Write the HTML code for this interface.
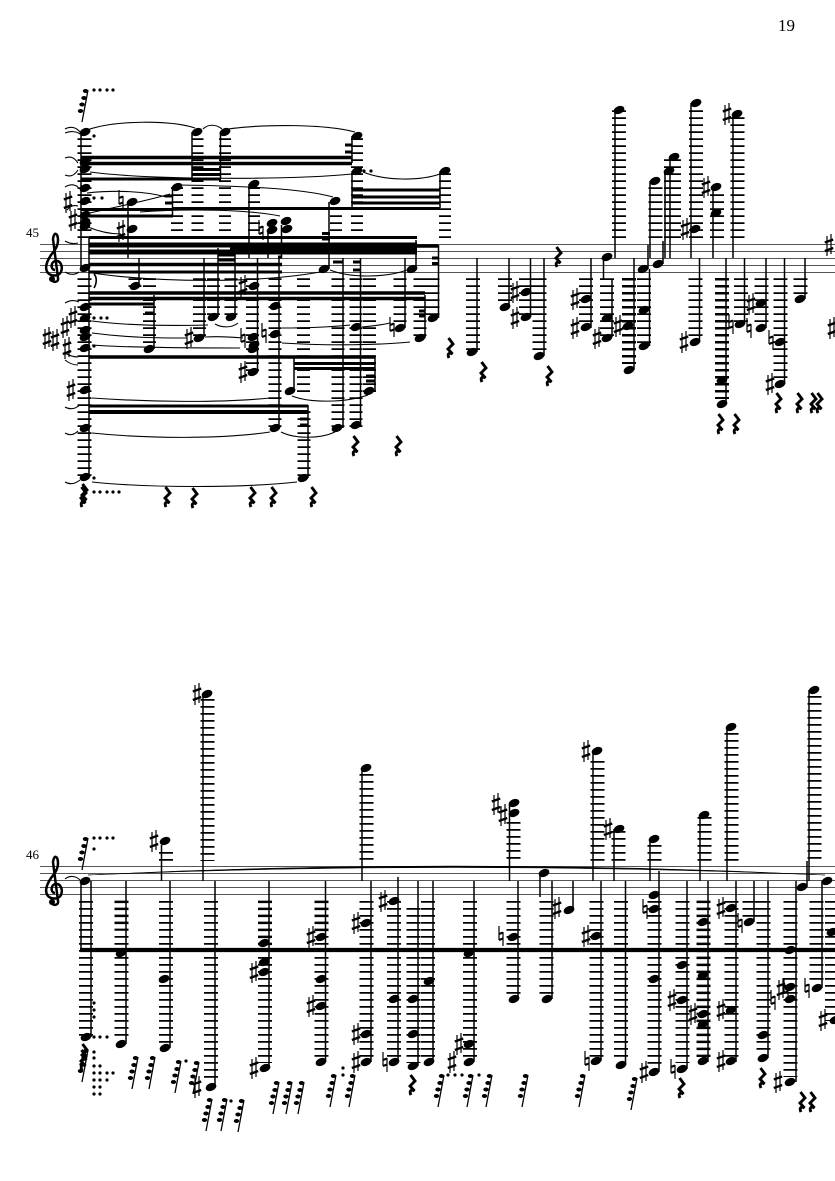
<!DOCTYPE html>
<html><head><meta charset="utf-8"><style>
html,body{margin:0;padding:0;background:#fff}
svg{display:block}
text{font-family:"Liberation Serif",serif;fill:#000}
</style></head><body>
<svg xmlns="http://www.w3.org/2000/svg" width="835" height="1181" viewBox="0 0 835 1181">
<defs>
<ellipse id="n" rx="5.6" ry="3.8" transform="rotate(-22)"/>
<g id="s" stroke="#000" fill="none"><path d="M-2 -9V11M2 -11V9" stroke-width="1.2"/><path d="M-4.2 -2.5L4.2 -5.5M-4.2 6L4.2 3" stroke-width="2.5"/></g>
<g id="h" stroke="#000" fill="none"><path d="M-2 -10V4M2 -4V10" stroke-width="1.2"/><path d="M-2 -2L2 -3.5M-2 4L2 2.5" stroke-width="2.1"/></g>
<path id="r" d="M-1.5 -10L3 -4L-2 1L2.5 6C-1 4 -3 6 -1 10" fill="none" stroke="#000" stroke-width="2.9"/>
<g id="g"><path d="M6 0L0 32" stroke="#000" stroke-width="1.3"/><ellipse cx="3.5" cy="1" rx="2.7" ry="2"/><ellipse cx="2" cy="8" rx="2.7" ry="2"/><ellipse cx="0" cy="14.5" rx="2.7" ry="2"/><ellipse cx="-1.5" cy="21" rx="2.7" ry="2"/></g>
<g id="c"><path d="M1 5C-3 5 -4 -2 1 -4C7 -5 9 2 7 7C5 11 -2 12 -6 8C-10 3 -7 -4 -3 -10C0 -14 4 -18 4 -25C4 -32 0 -34 -1 -26L4 13C5 18 -2 18 -3 14" fill="none" stroke="#000" stroke-width="2.5"/><circle cx="-2" cy="14" r="3"/></g>
</defs>

<text x="778" y="31" font-size="17">19</text>
<text x="26" y="237" font-size="13">45</text>
<text x="26" y="859" font-size="13">46</text>

<!-- staves -->
<path d="M40 244.5H835M40 251.5H835M40 258.5H835M40 265.5H835M40 272.5H835M40 866.5H835M40 873.5H835M40 880.5H835M40 887.5H835M40 894.5H835" stroke="#555" stroke-width="1" fill="none"/>
<use href="#c" x="54" y="265"/>
<use href="#c" x="54" y="888"/>

<!-- ledger stacks: system 1 -->
<g fill="none" stroke="#000" stroke-width="14" stroke-dasharray="1.7 5.3">
<path d="M84.5 138.3V238M84.5 278.3V476"/>
<path stroke-width="12" d="M197.5 138.3V238M225 138.3V238M177 187.3V231M254 187.3V231M336 208.3V238M357 138.3V168M357 173.3V238M445 173.3V238"/>
<path stroke-width="13" d="M149.5 278.3V343M135 278.3V288M199.5 278.3V336M213.5 278.3V315M231 278.3V315M252.5 278.3V371M275 278.3V427M303.5 278.3V392M304 411.3V476M338 278.3V427M356 278.3V427M369.5 278.3V392M400 278.3V322M420 278.3V336M433 278.3V315"/>
<path d="M473 278.3V350M505 278.3V301M526 278.3V315M539.5 278.3V350M586 278.3V322M607 278.3V336M629 278.3V364M644 278.3V343M695.5 278.3V336M722 278.3V399M741 278.3V322M761.5 278.3V322M780.5 278.3V378M800.5 278.3V294"/>
<path d="M619 110.3V238M655.5 187.3V238M696 110.3V238M717 194.3V238M737.5 117.3V238"/>
<path stroke-width="17" d="M672.5 159.3V238"/>
</g>
<!-- ledger stacks: system 2 -->
<g fill="none" stroke="#000" stroke-width="14" stroke-dasharray="1.7 5.3">
<path d="M86 901V1036M121.5 901V1037M166 901V1043M211 901V1081M265 901V1063M321.5 901V1057M366.5 901V1057M394 901V1057M413.5 908V1063M428 901V1057M470 901V1057M513.5 901V994M546.5 901V994M596.5 901V1057M621 901V1061M654.5 901V1066M682.5 901V1063M703.5 901V1057M731.5 901V1057M749.5 901V917M763.5 901V1053M790.5 901V1077M816.5 901V983M832 901V1021"/>
<path d="M166 852V861M207.5 699V861M366.5 774V861M513.5 822V861M597.5 761V861M618.5 831V861M654.5 845V861M704.5 817V861M731.5 733V861M814.5 696V861"/>
</g>
<!-- thicker top ledgers -->
<g fill="none" stroke="#000" stroke-width="14" stroke-dasharray="2.5 4.5">
<path d="M121.5 900.6V930M265 900.6V950M321.5 900.6V935M703.5 900.6V1057M722 278V399M629 278V364"/>
</g>

<!-- beams -->
<g fill="none" stroke="#000">
<path stroke-width="3.5" d="M81 157.5H352M81 163.5H352M89 264.5H282M89 293H425M89 298.5H425M89 357H375M417 246H438"/>
<path stroke-width="3" d="M81 179H221M192 169.5H221M192 174.5H221M81 209.5H173M81 216H173M173 208.5H440M352 190H440M352 197H440M352 203H440M89 237.5H417M89 272H282M89 304H154M294 363.5H375M294 368.5H375M89 406H308M218 255H235M218 260H235"/>
<path stroke-width="4" d="M89 412H308"/>
<path stroke-width="5" d="M89 245H417M89 252H417"/>
<path stroke-width="10" d="M230 249H417"/>
<path stroke-width="3" d="M322 233.5H330M322 239H330M345 145H352M345 152H352M432 258H438M432 263.5H438M419 311H425M419 316H425M145 313H154M366 376H375M366 381H375M300 419H308M300 425H308M165 196H172M165 203H172M333 262H343M353 262H360M353 270H360M278 257H282"/>
<path stroke-width="4.2" d="M80 950H835"/>
</g>

<!-- stems -->
<path fill="none" stroke="#000" stroke-width="1.5" d="M81 132V268M89 237V477M192 132V179M220.5 132V179M172.5 187V216M128 202V258M139 258V285M154 295V349M204 258V337M218 248V317M235 248V317M249 184V258M257.5 258V372M268 230V258M281.5 225V258M279 258V428M294 357V391M308 405V478M329 202V269M343 258V428M360.5 258V425M375 357V391M405 258V328M416 240V269M425 295V338M438.5 245V318M352 136V163M352 171V208M440 171V208M477 258V352M509 258V307M530.5 258V317M544 258V356M591 258V328M603.5 257V280M615 110V258M612 279V337M634 258V370M648 245V269M649.5 269V346M663 241V264M650 181V258M665 171V258M670 157V258M691 103V258M699.5 258V342M713 187V258M733 114V258M726 258V404M744.5 258V324M766 258V328M784.5 258V384M805 258V299
M81 881V950M91 881V1037M126 881V1044M161.5 845V881M170 881V1048M203 694V881M215 881V1086M269 881V1068M325.5 881V1062M362 768V881M371 881V1062M398 877V1062M418 881V1066M433 881V1062M474 881V1062M509.5 805V881M518 881V999M540 873V897M552 881V999M573 881V910M593 751V881M601 881V1061M614 829V881M625.5 881V1065M650 839V881M659 871V1072M687 881V1069M700 815V881M708 881V1062M727 727V881M736 881V1062M754 881V922M768 881V1058M796 881V1082M807 861V887M809 690V881M822 881V988"/>

<!-- noteheads system 1 -->
<g>
<use href="#n" x="85" y="132"/><use href="#n" x="85" y="162"/><use href="#n" x="85" y="169"/><use href="#n" x="85" y="188"/><use href="#n" x="85" y="201"/><use href="#n" x="85" y="215"/><use href="#n" x="85" y="222"/><use href="#n" x="85" y="226"/><use href="#n" x="85" y="268"/>
<use href="#n" x="85" y="307"/><use href="#n" x="85" y="318"/><use href="#n" x="85" y="330"/><use href="#n" x="85" y="337"/><use href="#n" x="85" y="348"/><use href="#n" x="85" y="390"/><use href="#n" x="85" y="428"/><use href="#n" x="85" y="477"/>
<use href="#n" x="197" y="132"/><use href="#n" x="225" y="132"/><use href="#n" x="357" y="136"/><use href="#n" x="357" y="171"/><use href="#n" x="445" y="171"/><use href="#n" x="177" y="187"/><use href="#n" x="254" y="184"/><use href="#n" x="132" y="202"/><use href="#n" x="335" y="201"/><use href="#n" x="132" y="229"/><use href="#n" x="135" y="286"/>
<use href="#n" x="272" y="223"/><use href="#n" x="272" y="230"/><use href="#n" x="286" y="221"/><use href="#n" x="287" y="229"/>
<use href="#n" x="324" y="269"/><use href="#n" x="412" y="269"/><use href="#n" x="254" y="286"/><use href="#n" x="275" y="306"/><use href="#n" x="213" y="317"/><use href="#n" x="231" y="317"/><use href="#n" x="275" y="334"/><use href="#n" x="199" y="338"/><use href="#n" x="253" y="337"/><use href="#n" x="254" y="345"/><use href="#n" x="253" y="349"/><use href="#n" x="149" y="349"/><use href="#n" x="253" y="372"/><use href="#n" x="290" y="391"/><use href="#n" x="369" y="391"/><use href="#n" x="275" y="428"/><use href="#n" x="337" y="428"/><use href="#n" x="356" y="425"/><use href="#n" x="303" y="478"/><use href="#n" x="356" y="327"/><use href="#n" x="400" y="328"/><use href="#n" x="420" y="338"/><use href="#n" x="433" y="318"/>
<use href="#n" x="472" y="352"/><use href="#n" x="505" y="307"/><use href="#n" x="526" y="292"/><use href="#n" x="526" y="317"/><use href="#n" x="539" y="356"/><use href="#n" x="586" y="299"/><use href="#n" x="586" y="327"/><use href="#n" x="607" y="257"/><use href="#n" x="619" y="110"/><use href="#n" x="607" y="318"/><use href="#n" x="607" y="338"/><use href="#n" x="628" y="326"/><use href="#n" x="629" y="370"/><use href="#n" x="643" y="269"/><use href="#n" x="644" y="310"/><use href="#n" x="644" y="346"/><use href="#n" x="658" y="264"/><use href="#n" x="655" y="181"/><use href="#n" x="669" y="171"/><use href="#n" x="674" y="157"/><use href="#n" x="695" y="229"/><use href="#n" x="696" y="103"/><use href="#n" x="695" y="342"/><use href="#n" x="716" y="187"/><use href="#n" x="716" y="213"/><use href="#n" x="737" y="114"/><use href="#n" x="722" y="404"/><use href="#n" x="722" y="380"/><use href="#n" x="740" y="324"/><use href="#n" x="761" y="303"/><use href="#n" x="761" y="328"/><use href="#n" x="780" y="342"/><use href="#n" x="780" y="384"/><use href="#n" x="800" y="299"/>
</g>
<!-- noteheads system 2 -->
<g>
<use href="#n" x="85" y="881"/><use href="#n" x="86" y="1037"/><use href="#n" x="121" y="953"/><use href="#n" x="121" y="1044"/><use href="#n" x="165" y="841"/><use href="#n" x="164" y="979"/><use href="#n" x="165" y="1048"/><use href="#n" x="207" y="694"/><use href="#n" x="211" y="1087"/><use href="#n" x="264" y="943"/><use href="#n" x="264" y="962"/><use href="#n" x="264" y="972"/><use href="#n" x="265" y="1068"/>
<use href="#n" x="366" y="768"/><use href="#n" x="321" y="937"/><use href="#n" x="321" y="979"/><use href="#n" x="321" y="1006"/><use href="#n" x="321" y="1062"/><use href="#n" x="366" y="923"/><use href="#n" x="366" y="1034"/><use href="#n" x="366" y="1062"/><use href="#n" x="394" y="901"/><use href="#n" x="394" y="999"/><use href="#n" x="394" y="1062"/><use href="#n" x="413" y="999"/><use href="#n" x="413" y="1034"/><use href="#n" x="413" y="1066"/><use href="#n" x="429" y="981"/><use href="#n" x="429" y="1062"/><use href="#n" x="469" y="953"/><use href="#n" x="469" y="1044"/><use href="#n" x="469" y="1062"/><use href="#n" x="514" y="803"/><use href="#n" x="514" y="813"/><use href="#n" x="513" y="937"/><use href="#n" x="514" y="999"/><use href="#n" x="544" y="873"/><use href="#n" x="547" y="999"/><use href="#n" x="569" y="910"/>
<use href="#n" x="597" y="751"/><use href="#n" x="596" y="936"/><use href="#n" x="596" y="1061"/><use href="#n" x="619" y="829"/><use href="#n" x="621" y="1065"/><use href="#n" x="654" y="839"/><use href="#n" x="654" y="895"/><use href="#n" x="654" y="909"/><use href="#n" x="654" y="979"/><use href="#n" x="654" y="1072"/><use href="#n" x="682" y="965"/><use href="#n" x="682" y="1000"/><use href="#n" x="682" y="1069"/><use href="#n" x="704" y="815"/><use href="#n" x="703" y="922"/><use href="#n" x="703" y="975"/><use href="#n" x="703" y="1014"/><use href="#n" x="703" y="1024"/><use href="#n" x="703" y="1061"/><use href="#n" x="731" y="727"/><use href="#n" x="731" y="908"/><use href="#n" x="731" y="1010"/><use href="#n" x="731" y="1061"/><use href="#n" x="749" y="922"/><use href="#n" x="763" y="1035"/><use href="#n" x="763" y="1058"/><use href="#n" x="790" y="950"/><use href="#n" x="790" y="987"/><use href="#n" x="790" y="999"/><use href="#n" x="790" y="1082"/><use href="#n" x="802" y="887"/><use href="#n" x="814" y="690"/><use href="#n" x="827" y="881"/><use href="#n" x="817" y="988"/><use href="#n" x="832" y="932"/><use href="#n" x="835" y="1020"/>
</g>

<!-- sharps -->
<g>
<use href="#s" x="68" y="202"/><use href="#s" x="73" y="220"/><use href="#s" x="121" y="231"/><use href="#s" x="47" y="338"/><use href="#s" x="55" y="340"/><use href="#s" x="65" y="327"/><use href="#s" x="73" y="317"/><use href="#s" x="67" y="348"/><use href="#s" x="71" y="390"/><use href="#s" x="189" y="338"/><use href="#s" x="243" y="286"/><use href="#s" x="243" y="372"/>
<use href="#s" x="515" y="292"/><use href="#s" x="515" y="318"/><use href="#s" x="575" y="299"/><use href="#s" x="575" y="328"/><use href="#s" x="597" y="338"/><use href="#s" x="618" y="326"/><use href="#s" x="685" y="229"/><use href="#s" x="684" y="342"/><use href="#s" x="706" y="187"/><use href="#s" x="727" y="114"/><use href="#s" x="751" y="304"/><use href="#s" x="770" y="384"/><use href="#s" x="829" y="245"/><use href="#s" x="832" y="328"/>
<use href="#s" x="154" y="841"/><use href="#s" x="197" y="694"/><use href="#s" x="197" y="1087"/><use href="#s" x="254" y="972"/><use href="#s" x="254" y="1068"/><use href="#s" x="311" y="937"/><use href="#s" x="311" y="1006"/><use href="#s" x="356" y="923"/><use href="#s" x="356" y="1034"/><use href="#s" x="356" y="1062"/><use href="#s" x="383" y="901"/><use href="#s" x="459" y="1044"/><use href="#s" x="452" y="1062"/><use href="#s" x="496" y="804"/><use href="#s" x="503" y="815"/><use href="#s" x="557" y="908"/><use href="#s" x="586" y="751"/><use href="#s" x="586" y="936"/><use href="#s" x="608" y="829"/><use href="#s" x="644" y="1072"/><use href="#s" x="672" y="1000"/><use href="#s" x="693" y="1014"/><use href="#s" x="721" y="908"/><use href="#s" x="721" y="1010"/><use href="#s" x="721" y="1061"/><use href="#s" x="781" y="989"/><use href="#s" x="778" y="1082"/><use href="#s" x="823" y="1020"/>
</g>
<!-- naturals -->
<g>
<use href="#h" x="121" y="200"/><use href="#h" x="261" y="230"/><use href="#h" x="243" y="338"/><use href="#h" x="264" y="333"/><use href="#h" x="392" y="327"/><use href="#h" x="731" y="324"/><use href="#h" x="749" y="328"/><use href="#h" x="771" y="340"/>
<use href="#h" x="385" y="1062"/><use href="#h" x="501" y="936"/><use href="#h" x="587" y="1061"/><use href="#h" x="645" y="909"/><use href="#h" x="673" y="1069"/><use href="#h" x="740" y="923"/><use href="#h" x="773" y="1000"/><use href="#h" x="786" y="989"/><use href="#h" x="807" y="988"/>
</g>

<!-- rests -->
<g>
<use href="#r" x="83" y="497"/><use href="#r" x="84" y="494"/><use href="#r" x="167" y="497"/><use href="#r" x="194" y="498"/><use href="#r" x="252" y="497"/><use href="#r" x="273" y="497"/><use href="#r" x="313" y="497"/><use href="#r" x="355" y="446"/><use href="#r" x="398" y="446"/><use href="#r" x="450" y="348"/><use href="#r" x="483" y="372"/><use href="#r" x="549" y="376"/><use href="#r" x="558" y="257"/><use href="#r" x="778" y="403"/><use href="#r" x="799" y="403"/><use href="#r" x="813" y="403"/><use href="#r" x="819" y="403"/><use href="#r" x="720" y="424"/><use href="#r" x="736" y="424"/>
<use href="#r" x="83" y="1060"/><use href="#r" x="84" y="1054"/><use href="#r" x="412" y="1085"/><use href="#r" x="681" y="1088"/><use href="#r" x="762" y="1078"/><use href="#r" x="802" y="1102"/><use href="#r" x="812" y="1102"/>
</g>

<!-- grace groups -->
<g>
<use href="#g" x="82" y="90"/><use href="#g" x="82" y="838"/><use href="#g" x="82" y="1050"/>
<use href="#g" x="132" y="1057"/><use href="#g" x="149" y="1057"/><use href="#g" x="175" y="1061"/><use href="#g" x="193" y="1062"/><use href="#g" x="206" y="1099"/><use href="#g" x="221" y="1099"/><use href="#g" x="238" y="1100"/><use href="#g" x="273" y="1082"/><use href="#g" x="286" y="1082"/><use href="#g" x="298" y="1082"/><use href="#g" x="330" y="1075"/><use href="#g" x="349" y="1075"/><use href="#g" x="438" y="1075"/><use href="#g" x="467" y="1075"/><use href="#g" x="486" y="1075"/><use href="#g" x="522" y="1075"/><use href="#g" x="579" y="1075"/><use href="#g" x="631" y="1078"/>
</g>

<!-- dots -->
<g>
<circle cx="94" cy="90" r="1.6"/><circle cx="100" cy="90" r="1.6"/><circle cx="107" cy="90" r="1.6"/><circle cx="113" cy="90" r="1.6"/><circle cx="94" cy="136" r="1.6"/><circle cx="94" cy="198" r="1.6"/><circle cx="102" cy="198" r="1.6"/><circle cx="94" cy="318" r="1.6"/><circle cx="101" cy="318" r="1.6"/><circle cx="107" cy="318" r="1.6"/><circle cx="94" cy="346" r="1.6"/><circle cx="94" cy="478" r="1.6"/><circle cx="94" cy="492" r="1.6"/><circle cx="100" cy="492" r="1.6"/><circle cx="107" cy="492" r="1.6"/><circle cx="113" cy="492" r="1.6"/><circle cx="119" cy="492" r="1.6"/><circle cx="364" cy="171" r="1.6"/><circle cx="371" cy="171" r="1.6"/>
<circle cx="94" cy="838" r="1.6"/><circle cx="100" cy="838" r="1.6"/><circle cx="107" cy="838" r="1.6"/><circle cx="113" cy="838" r="1.6"/><circle cx="94" cy="849" r="1.6"/><circle cx="94" cy="1003" r="1.6"/><circle cx="94" cy="1010" r="1.6"/><circle cx="94" cy="1017" r="1.6"/><circle cx="94" cy="1037" r="1.6"/><circle cx="100" cy="1037" r="1.6"/><circle cx="107" cy="1037" r="1.6"/>
<circle cx="94" cy="1052" r="1.6"/><circle cx="94" cy="1058" r="1.6"/><circle cx="94" cy="1066" r="1.6"/><circle cx="100" cy="1066" r="1.6"/><circle cx="94" cy="1073" r="1.6"/><circle cx="100" cy="1073" r="1.6"/><circle cx="107" cy="1073" r="1.6"/><circle cx="113" cy="1073" r="1.6"/><circle cx="94" cy="1080" r="1.6"/><circle cx="100" cy="1080" r="1.6"/><circle cx="107" cy="1080" r="1.6"/><circle cx="94" cy="1087" r="1.6"/><circle cx="100" cy="1087" r="1.6"/><circle cx="94" cy="1094" r="1.6"/><circle cx="100" cy="1094" r="1.6"/>
<circle cx="186" cy="1061" r="1.6"/><circle cx="231" cy="1101" r="1.6"/><circle cx="343" cy="1068" r="1.6"/><circle cx="343" cy="1075" r="1.6"/><circle cx="448" cy="1075" r="1.6"/><circle cx="455" cy="1075" r="1.6"/><circle cx="462" cy="1075" r="1.6"/><circle cx="479" cy="1075" r="1.6"/>
</g>

<!-- slurs and ties -->
<g fill="none" stroke="#000" stroke-width="1.1">
<path d="M87 130C115 120 170 120 195 128M203 129C208 124 216 124 222 129M228 129C265 124 325 124 355 132"/>
<path d="M90 172C150 180 290 180 352 174M363 172C385 181 420 181 440 174"/>
<path d="M87 193C115 190 145 191 166 197M90 213C120 206 150 200 170 194M180 185C240 186 300 188 333 197"/>
<path d="M88 227C100 232 110 234 121 234M140 212C190 208 250 210 280 216"/>
<path d="M92 273C160 283 260 283 320 272M330 270C350 278 385 278 407 270"/>
<path d="M92 321C130 326 170 326 208 325M215 324C222 328 232 328 238 323M92 333C130 338 160 338 187 338M205 337C220 336 232 337 243 338M282 328C310 328 330 327 350 325M362 327C372 326 382 325 390 323M282 343C330 346 380 345 410 342M92 345C130 348 200 348 240 348"/>
<path d="M92 398C150 402 220 403 270 398M292 396C310 403 345 403 368 395"/>
<path d="M92 433C150 439 225 439 270 432M281 432C295 439 320 439 335 432"/>
<path d="M92 482C150 488 240 488 297 482"/>
<path d="M65 129C70 126 76 127 80 132M65 133C70 131 76 131 80 134M65 158C70 156 74 157 78 163M65 175C70 177 74 176 78 170M65 187C70 184 74 184 78 187M67 210C70 206 74 205 78 206M65 241C70 244 74 244 78 243M65 272C70 275 75 275 79 272M65 303C70 300 75 300 79 302M65 353C70 356 74 357 78 357M65 360C70 364 74 365 78 365M65 407C70 410 75 409 80 405M65 433C70 436 74 435 78 431M65 482C70 485 75 484 80 480"/>
<path d="M65 879C70 875 76 876 80 880"/>
<path d="M94 274C97 277 97 283 94 288" stroke-width="1.6"/>
</g>
<path d="M88 875Q450 857 825 875Q450 860 88 875Z" fill="#000" stroke="#000" stroke-width=".5"/>
</svg>
</body></html>
